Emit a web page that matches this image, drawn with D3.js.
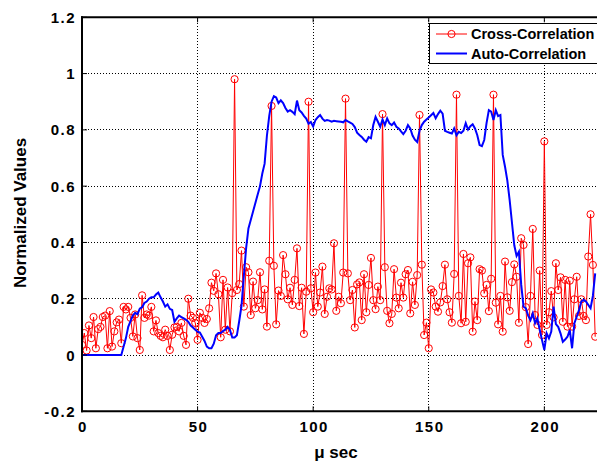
<!DOCTYPE html>
<html>
<head>
<meta charset="utf-8">
<script src="https://cdnjs.cloudflare.com/ajax/libs/d3/7.8.5/d3.min.js"></script>
<style>
	body { margin: 0; background: #fff; }
	svg { display: block; font-family: "Liberation Sans", Arial, Helvetica, sans-serif; font-weight: bold; }
</style>
</head>
<body>
<svg></svg>
<script>
	// one sample per microsecond, x = index
	let crossValues = [
		0.036, 0.078, 0.016, 0.105, 0.06, 0.135, 0.024, 0.092, 0.10, 0.135,
		0.14, 0.024, 0.156, 0.03, 0.084, 0.116, 0.126, 0.042, 0.171, 0.162,
		0.171, 0.132, 0.066, 0.144, 0.06, 0.018, 0.212, 0.132, 0.144, 0.14,
		0.171, 0.084, 0.123, 0.078, 0.068, 0.063, 0.09, 0.068, 0.018, 0.072,
		0.098, 0.10, 0.084, 0.114, 0.068, 0.036, 0.2, 0.14, 0.132, 0.114,
		0.054, 0.15, 0.132, 0.114, 0.128, 0.166, 0.257, 0.228, 0.29, 0.216,
		0.063, 0.267, 0.09, 0.24, 0.084, 0.22, 0.98, 0.231, 0.252, 0.371,
		0.172, 0.312, 0.294, 0.142, 0.261, 0.166, 0.195, 0.294, 0.162, 0.233,
		0.101, 0.335, 0.885, 0.317, 0.109, 0.229, 0.21, 0.355, 0.287, 0.198,
		0.239, 0.178, 0.267, 0.379, 0.174, 0.239, 0.075, 0.225, 0.90, 0.237,
		0.152, 0.293, 0.172, 0.222, 0.314, 0.146, 0.207, 0.237, 0.233, 0.397,
		0.157, 0.207, 0.184, 0.293, 0.911, 0.29, 0.195, 0.231, 0.098, 0.251,
		0.258, 0.124, 0.287, 0.152, 0.249, 0.345, 0.195, 0.163, 0.243, 0.195,
		0.856, 0.312, 0.157, 0.113, 0.146, 0.305, 0.204, 0.166, 0.257, 0.204,
		0.287, 0.302, 0.148, 0.26, 0.178, 0.284, 0.853, 0.321, 0.071, 0.115,
		0.024, 0.233, 0.222, 0.172, 0.154, 0.187, 0.245, 0.321, 0.198, 0.152,
		0.115, 0.288, 0.925, 0.21, 0.113, 0.359, 0.118, 0.326, 0.347, 0.083,
		0.19, 0.124, 0.305, 0.30, 0.219, 0.249, 0.156, 0.271, 0.925, 0.186,
		0.109, 0.21, 0.083, 0.332, 0.205, 0.157, 0.259, 0.322, 0.278, 0.115,
		0.415, 0.391, 0.17, 0.039, 0.21, 0.448, 0.142, 0.107, 0.30, 0.071,
		0.759, 0.107, 0.152, 0.227, 0.134, 0.326, 0.231, 0.276, 0.118, 0.267,
		0.101, 0.264, 0.101, 0.198, 0.278, 0.139, 0.198, 0.139, 0.124, 0.35,
		0.50, 0.32, 0.065
	];

	let autoValues = [
		0, 0, 0, 0, 0, 0, 0, 0, 0, 0,
		0, 0, 0, 0, 0, 0, 0, 0, 0.03, 0.06,
		0.10, 0.12, 0.14, 0.15, 0.145, 0.165, 0.17, 0.185, 0.19, 0.20,
		0.205, 0.205, 0.215, 0.222, 0.205, 0.19, 0.172, 0.18, 0.164, 0.16,
		0.118, 0.13, 0.14, 0.135, 0.13, 0.125, 0.118, 0.105, 0.098, 0.09,
		0.083, 0.08, 0.065, 0.05, 0.03, 0.024, 0.024, 0.04, 0.07, 0.078,
		0.078, 0.085, 0.09, 0.1, 0.089, 0.062, 0.062, 0.07, 0.12, 0.175,
		0.28, 0.38, 0.45, 0.48, 0.51, 0.54, 0.57, 0.60, 0.645, 0.68,
		0.78, 0.85, 0.90, 0.92, 0.915, 0.895, 0.905, 0.895, 0.878, 0.865,
		0.87, 0.864, 0.856, 0.904, 0.87, 0.862, 0.85, 0.84, 0.822, 0.828,
		0.812, 0.835, 0.845, 0.853, 0.84, 0.832, 0.835, 0.833, 0.829, 0.832,
		0.831, 0.83, 0.829, 0.827, 0.835, 0.83, 0.826, 0.821, 0.81, 0.79,
		0.782, 0.775, 0.765, 0.758, 0.774, 0.77, 0.817, 0.846, 0.829, 0.811,
		0.837, 0.817, 0.841, 0.823, 0.817, 0.826, 0.811, 0.805, 0.795, 0.785,
		0.797, 0.817, 0.805, 0.78, 0.765, 0.757, 0.797, 0.817, 0.829, 0.837,
		0.844, 0.852, 0.86, 0.841, 0.856, 0.868, 0.858, 0.797, 0.793, 0.79,
		0.787, 0.805, 0.781, 0.793, 0.789, 0.797, 0.824, 0.801, 0.813, 0.82,
		0.805, 0.781, 0.746, 0.742, 0.764, 0.824, 0.87, 0.865, 0.835, 0.87,
		0.849, 0.853, 0.711, 0.669, 0.62, 0.55, 0.47, 0.39, 0.352, 0.367,
		0.25, 0.172, 0.166, 0.14, 0.124, 0.148, 0.113, 0.13, 0.09, 0.053,
		0.018, 0.077, 0.059, 0.083, 0.172, 0.11, 0.1, 0.077, 0.047, 0.055,
		0.065, 0.089, 0.024, 0.113, 0.136, 0.16, 0.19, 0.196, 0.19, 0.178,
		0.166, 0.21, 0.29
	];

	let xTicks = [0, 50, 100, 150, 200];
	let yTicks = [-0.2, 0, 0.2, 0.4, 0.6, 0.8, 1, 1.2];
	let seriesNames = ['Cross-Correlation', 'Auto-Correlation'];

	//pre-defined variables to use
	let width = 597;
	let height = 465;
	let plotLeft = 82, plotRight = 597.5, plotTop = 17.3, plotBottom = 411.3;

	let x = d3.scaleLinear().domain([0, 223]).range([plotLeft, plotRight]);
	let y = d3.scaleLinear().domain([-0.2, 1.2]).range([plotBottom, plotTop]);

	let svg = d3.select('svg')
		.attr('width', width)
		.attr('height', height);

	svg.append('clipPath')
		.attr('id', 'plotClip')
		.append('rect')
		.attr('x', plotLeft)
		.attr('y', plotTop - 6)
		.attr('width', plotRight - plotLeft + 10)
		.attr('height', plotBottom - plotTop + 12);

	// grid
	let grid = svg.append('g')
		.attr('class', 'grid')
		.attr('shape-rendering', 'crispEdges');
	grid.selectAll('.gx')
		.data(xTicks.filter(t => t > 0))
		.enter()
		.append('line')
		.attr('x1', d => x(d)).attr('x2', d => x(d))
		.attr('y1', plotTop).attr('y2', plotBottom)
		.style('stroke', '#000')
		.style('stroke-width', 1)
		.style('stroke-dasharray', '1,2');
	grid.selectAll('.gy')
		.data(yTicks.filter(t => t > -0.2 && t < 1.2))
		.enter()
		.append('line')
		.attr('x1', plotLeft).attr('x2', plotRight)
		.attr('y1', d => y(d)).attr('y2', d => y(d))
		.style('stroke', '#000')
		.style('stroke-width', 1)
		.style('stroke-dasharray', '1,2');

	let plot = svg.append('g').attr('clip-path', 'url(#plotClip)');

	let line = d3.line()
		.x((d, i) => x(i))
		.y(d => y(d));

	plot.append('path')
		.datum(crossValues)
		.attr('d', line)
		.style('fill', 'none')
		.style('stroke', '#ff0000')
		.style('stroke-width', 1);

	plot.append('g')
		.selectAll('circle')
		.data(crossValues)
		.enter()
		.append('circle')
		.attr('cx', (d, i) => x(i))
		.attr('cy', d => y(d))
		.attr('r', 3.6)
		.style('fill', 'none')
		.style('stroke', '#ff0000')
		.style('stroke-width', 1);

	plot.append('path')
		.datum(autoValues)
		.attr('d', line)
		.style('fill', 'none')
		.style('stroke', '#0000ff')
		.style('stroke-width', 2);

	// axes box
	let axes = svg.append('g').attr('class', 'axes');
	axes.append('line')
		.attr('x1', plotLeft).attr('x2', plotLeft).attr('y1', plotTop - 1).attr('y2', plotBottom + 1)
		.style('stroke', '#000').style('stroke-width', 2);
	axes.append('line')
		.attr('x1', plotLeft - 1).attr('x2', width).attr('y1', plotBottom).attr('y2', plotBottom)
		.style('stroke', '#000').style('stroke-width', 2);
	axes.append('line')
		.attr('x1', plotLeft - 1).attr('x2', width).attr('y1', plotTop).attr('y2', plotTop)
		.style('stroke', '#000').style('stroke-width', 2);

	// inward ticks
	axes.selectAll('.tb')
		.data(xTicks)
		.enter()
		.append('line')
		.attr('x1', d => x(d)).attr('x2', d => x(d))
		.attr('y1', plotBottom).attr('y2', plotBottom - 5)
		.style('stroke', '#000');
	axes.selectAll('.tt')
		.data(xTicks)
		.enter()
		.append('line')
		.attr('x1', d => x(d)).attr('x2', d => x(d))
		.attr('y1', plotTop).attr('y2', plotTop + 5)
		.style('stroke', '#000');
	axes.selectAll('.tl')
		.data(yTicks)
		.enter()
		.append('line')
		.attr('x1', plotLeft).attr('x2', plotLeft + 5)
		.attr('y1', d => y(d)).attr('y2', d => y(d))
		.style('stroke', '#000');

	let fmt = d => d === 0 ? '0' : String(+d.toFixed(1));

	axes.selectAll('.lx')
		.data(xTicks)
		.enter()
		.append('text')
		.attr('x', d => x(d) + 1)
		.attr('y', 432)
		.attr('text-anchor', 'middle')
		.style('font-size', '15px')
		.style('letter-spacing', '1.5px')
		.text(fmt);

	axes.selectAll('.ly')
		.data(yTicks)
		.enter()
		.append('text')
		.attr('x', 76)
		.attr('y', d => y(d) + 5.5)
		.attr('text-anchor', 'end')
		.style('font-size', '15px')
		.style('letter-spacing', '1.5px')
		.text(fmt);

	svg.append('text')
		.attr('transform', 'translate(26,213) rotate(-90)')
		.attr('text-anchor', 'middle')
		.style('font-size', '17px')
		.text('Normalized Values');

	svg.append('text')
		.attr('x', 336)
		.attr('y', 458)
		.attr('text-anchor', 'middle')
		.style('font-size', '17px')
		.text('\u03bc sec');

	// legend
	let legend = svg.append('g').attr('class', 'legend');
	legend.append('rect')
		.attr('x', 429.5).attr('y', 23.5)
		.attr('width', 200).attr('height', 40)
		.style('fill', '#fff')
		.style('stroke', '#000')
		.style('stroke-width', 1);

	let colors = ['#ff0000', '#0000ff'];
	let entry = legend.selectAll('.entry')
		.data(seriesNames)
		.enter()
		.append('g')
		.attr('transform', (d, i) => 'translate(0,' + (34 + i * 19.5) + ')');

	entry.append('line')
		.attr('x1', 436).attr('x2', 467)
		.style('stroke', (d, i) => colors[i])
		.style('stroke-width', (d, i) => i === 0 ? 1 : 2);

	entry.filter((d, i) => i === 0)
		.append('circle')
		.attr('cx', 451.5).attr('r', 3.6)
		.style('fill', 'none')
		.style('stroke', '#ff0000');

	entry.append('text')
		.attr('x', 471)
		.attr('y', 5)
		.style('font-size', '14.5px')
		.text(d => d);
</script>
</body>
</html>
